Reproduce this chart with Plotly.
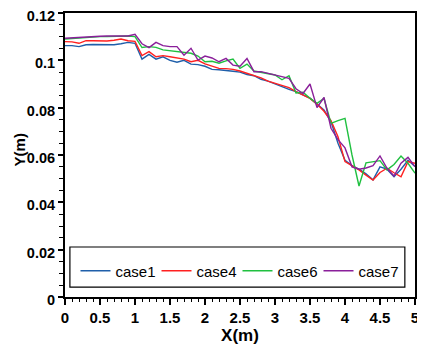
import plotly.graph_objects as go

x_vals = [round(i * 0.1, 1) for i in range(51)]

case1 = [0.1062, 0.1062, 0.1058, 0.1066, 0.1067, 0.1067, 0.1067, 0.1066, 0.1070, 0.1076,
         0.1072, 0.1005, 0.1025, 0.1005, 0.1015, 0.1000, 0.0992, 0.1000, 0.0984, 0.0982,
         0.0975, 0.0962, 0.0960, 0.0958, 0.0954, 0.0950, 0.0940, 0.0935, 0.0920, 0.0912,
         0.0900, 0.0890, 0.0877, 0.0868, 0.0855, 0.0840, 0.0815, 0.0790, 0.0740, 0.0650,
         0.0578, 0.0555, 0.0540, 0.0520, 0.0495, 0.0550, 0.0540, 0.0508, 0.0540, 0.0578,
         0.0551]
case4 = [0.1079, 0.1078, 0.1072, 0.1083, 0.1083, 0.1082, 0.1082, 0.1085, 0.1090, 0.1083,
         0.1080, 0.1020, 0.1037, 0.1015, 0.1020, 0.1015, 0.1010, 0.1005, 0.0994, 0.1000,
         0.0985, 0.0975, 0.0966, 0.0965, 0.0962, 0.0955, 0.0945, 0.0937, 0.0926, 0.0912,
         0.0903, 0.0893, 0.0885, 0.0868, 0.0855, 0.0839, 0.0815, 0.0785, 0.0745, 0.0677,
         0.0572, 0.0555, 0.0537, 0.0515, 0.0494, 0.0526, 0.0544, 0.0525, 0.0508, 0.0572,
         0.0565]
case6 = [0.1090, 0.1092, 0.1096, 0.1098, 0.1100, 0.1100, 0.1100, 0.1101, 0.1102, 0.1103,
         0.1100, 0.1054, 0.1058, 0.1055, 0.1044, 0.1040, 0.1038, 0.1035, 0.1030, 0.1018,
         0.0994, 0.0996, 0.0988, 0.0998, 0.1005, 0.0966, 0.0984, 0.0955, 0.0950, 0.0945,
         0.0938, 0.0918, 0.0935, 0.0862, 0.0865, 0.0840, 0.0818, 0.0839, 0.0734, 0.0745,
         0.0755, 0.0600, 0.0469, 0.0567, 0.0570, 0.0576, 0.0537, 0.0560, 0.0596, 0.0565,
         0.0523]
case7 = [0.1093, 0.1095, 0.1097, 0.1100, 0.1103, 0.1102, 0.1103, 0.1103, 0.1104, 0.1103,
         0.1110, 0.1070, 0.1054, 0.1076, 0.1062, 0.1058, 0.1058, 0.1022, 0.1051, 0.1001,
         0.1018, 0.1010, 0.0994, 0.1008, 0.0980, 0.0975, 0.1008, 0.0952, 0.0952, 0.0945,
         0.0935, 0.0928, 0.0924, 0.0880, 0.0860, 0.0900, 0.0800, 0.0843, 0.0713, 0.0665,
         0.0630, 0.0550, 0.0540, 0.0545, 0.0555, 0.0596, 0.0544, 0.0511, 0.0565, 0.0590,
         0.0551]

series_names = ["case1", "case4", "case6", "case7"]
series_vals = [case1, case4, case6, case7]
colors = ["#1f5faa", "#ff2020", "#20c040", "#8a1f9a"]

x_tick_vals = [0, 0.5, 1, 1.5, 2, 2.5, 3, 3.5, 4, 4.5, 5]
x_tick_text = ["0", "0.5", "1", "1.5", "2", "2.5", "3", "3.5", "4", "4.5", "5"]
y_tick_vals = [0, 0.02, 0.04, 0.06, 0.08, 0.1, 0.12]
y_tick_text = ["0", "0.02", "0.04", "0.06", "0.08", "0.1", "0.12"]

fig = go.Figure()
for name, vals, c in zip(series_names, series_vals, colors):
    fig.add_trace(go.Scatter(x=x_vals, y=vals, mode="lines", name=name,
                             line=dict(color=c, width=1.4)))

x_tick_font = dict(family="Liberation Sans, Arial", size=15, color="black", weight="bold")
y_tick_font = dict(family="Liberation Sans, Arial", size=14.5, color="black", weight="bold")

fig.update_layout(
    width=417, height=337,
    margin=dict(l=57, r=10, t=5, b=48),
    paper_bgcolor="white", plot_bgcolor="white",
    showlegend=True,
    legend=dict(orientation="h", x=0.03, y=0.0915, xanchor="left", yanchor="middle",
                bgcolor="rgba(0,0,0,0)", borderwidth=0,
                font=dict(family="Liberation Sans, Arial", size=15, color="black"),
                entrywidth=36, entrywidthmode="pixels", itemwidth=30,
                tracegroupgap=0),
    shapes=[dict(type="rect", xref="paper", yref="paper",
                 x0=0.014, x1=0.971, y0=0.035, y1=0.176,
                 line=dict(color="black", width=1.2), fillcolor="white", layer="below")],
    annotations=[dict(text="Y(m)", xref="paper", yref="paper", x=-0.13, y=0.518,
                      xanchor="center", yanchor="middle", textangle=-90, showarrow=False,
                      font=dict(family="Liberation Sans, Arial", size=15, color="black",
                                weight="bold"))],
    xaxis=dict(range=[0, 5], tickvals=x_tick_vals, ticktext=x_tick_text,
               showgrid=False, zeroline=False, automargin=False,
               showline=True, linecolor="black", linewidth=2, mirror=True,
               ticks="outside", ticklen=6, tickwidth=2, tickcolor="black",
               ticklabeloverflow="allow",
               minor=dict(dtick=0.1, ticks="outside", ticklen=3, tickwidth=1.2, tickcolor="black", showgrid=False),
               tickfont=x_tick_font,
               title=dict(text="X(m)", font=dict(family="Liberation Sans, Arial", size=17,
                                                 color="black", weight="bold"), standoff=0)),
    yaxis=dict(range=[0, 0.12], tickvals=y_tick_vals, ticktext=y_tick_text,
               showgrid=False, zeroline=False, automargin=False,
               showline=True, linecolor="black", linewidth=2, mirror=True,
               ticks="outside", ticklen=5, tickwidth=2, tickcolor="black",
               ticklabeloverflow="allow", ticklabelshift=3,
               minor=dict(dtick=0.005, ticks="outside", ticklen=4, tickwidth=1.2, tickcolor="black", showgrid=False),
               tickfont=y_tick_font),
)

fig.write_html("out.html")
